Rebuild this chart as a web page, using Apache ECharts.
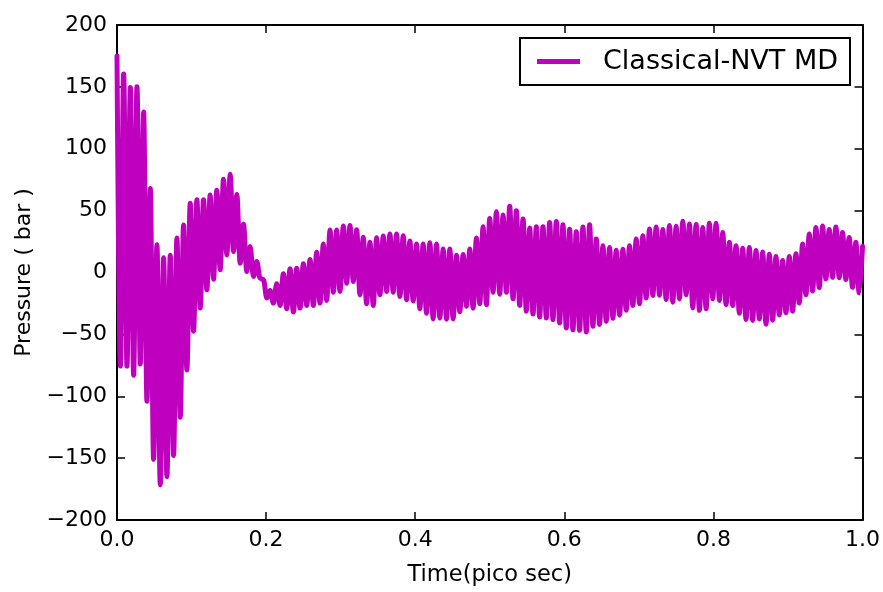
<!DOCTYPE html>
<html>
<head>
<meta charset="utf-8">
<script src="https://cdn.jsdelivr.net/npm/echarts@6/dist/echarts.min.js"></script>
<style>
  html, body { margin: 0; padding: 0; background: #ffffff; }
  #chart { width: 883px; height: 592px; }
</style>
</head>
<body>
<div id="chart"></div>
<script>
// Pressure trace of a classical NVT MD run: successive maxima and minima (bar)
const peaks = [
  175, 160.5, 149.5, 150, 129.7, 67.8, 22.5, 12, 14, 27.9,
  38.3, 56, 58.7, 58.7, 62.7, 66.5, 75.3, 79.3, 63, 39,
  21, 8.8, -5.9, -14.5, -9, -1, 3, 3.5, 7, 10.5,
  16.3, 23, 34.3, 34.3, 37.5, 38, 34.5, 28.4, 24.4, 28,
  29.5, 31.1, 31.1, 29.7, 25.5, 23, 23, 24, 23, 19,
  19, 14, 14.5, 19, 27.9, 37, 43.6, 49, 46.5, 53.5,
  50, 43.2, 36, 37, 37, 40.4, 41.2, 38.6, 35, 33,
  36.7, 38.5, 27, 21.7, 20.3, 18, 18.8, 21.7, 27.1, 29.7,
  35.1, 36.7, 34.7, 38, 37.4, 41.5, 39.1, 38.7, 36.4, 39.8,
  39.8, 32.4, 24.4, 21.7, 19.6, 20.3, 17.7, 16.6, 14.7, 13,
  9.6, 13, 15.2, 23, 31.1, 36.4, 37.5, 34.7, 36.7, 32.4,
  28.2, 24.4, 21
];
const troughs = [
  -75.6, -75.6, -83, -74, -104, -151, -171.5, -165, -148, -117,
  -78.8, -47.4, -28.7, -13.9, -5.4, 2.2, 14.2, 16.9, 7.5, 0.8,
  -3.2, -4.6, -20.6, -24.7, -26.6, -29.3, -32, -28.7, -26.7, -26.7,
  -24.7, -22.6, -16, -15.3, -8.6, -7.2, -18, -25.3, -26.6, -18,
  -15.3, -16, -19.3, -22, -23, -29.3, -33, -37.5, -36.7, -37.7,
  -37.5, -31.7, -27.3, -28.8, -25.3, -26, -16, -17.5, -16, -21.3,
  -26.6, -31.3, -33.5, -36, -36.7, -38, -40.7, -44.8, -46.3, -46.7,
  -48, -43.4, -42, -39.4, -37, -34.5, -30.5, -26.7, -25.3, -20.6,
  -18.6, -18.3, -21.9, -24, -21.4, -18, -28.7, -30.6, -29.3, -21.3,
  -22.6, -26, -26.7, -33, -38, -38.7, -37.5, -41.8, -38.5, -34.3,
  -32.5, -31.3, -24.7, -18, -15, -12.2, -5.2, -3.9, -4.2, -5.6,
  -12, -16.6
];
const timeStart = 0.0;   // ps
const timeEnd = 1.0;     // ps
const xTicks = [0.0, 0.2, 0.4, 0.6, 0.8, 1.0];
const yTicks = [-200, -150, -100, -50, 0, 50, 100, 150, 200];
const seriesName = 'Classical-NVT MD';

// interleave maxima and minima on an even time grid
const nExt = peaks.length + troughs.length;
const step = (timeEnd - timeStart) / (nExt - 1);
const points = [];
for (let i = 0; i < nExt; i++) {
  const v = (i % 2 === 0) ? peaks[i / 2] : troughs[(i - 1) / 2];
  points.push([timeStart + i * step, v]);
}

const FONT = 'DejaVu Sans';
const minus = s => String(s).replace('-', '\u2212');

const chart = echarts.init(document.getElementById('chart'), null, { renderer: 'canvas' });
const axisLineStyle = { color: '#000', width: 2 };
const tickStyle = { show: true, inside: true, length: 8, lineStyle: { color: '#000', width: 1.5 } };

function frameX(position, extra) {
  return Object.assign({
    type: 'value',
    position: position,
    min: xTicks[0],
    max: xTicks[xTicks.length - 1],
    interval: 0.2,
    axisLine: { show: true, onZero: false, lineStyle: axisLineStyle },
    axisTick: tickStyle,
    splitLine: { show: false },
    axisLabel: { show: false }
  }, extra || {});
}
function frameY(position, extra) {
  return Object.assign({
    type: 'value',
    position: position,
    min: yTicks[0],
    max: yTicks[yTicks.length - 1],
    interval: 50,
    axisLine: { show: true, onZero: false, lineStyle: axisLineStyle },
    axisTick: tickStyle,
    splitLine: { show: false },
    axisLabel: { show: false }
  }, extra || {});
}

chart.setOption({
  animation: false,
  backgroundColor: '#ffffff',
  grid: { left: 117, right: 20, top: 25, bottom: 70, containLabel: false },
  legend: {
    show: true,
    right: 33,
    top: 38,
    icon: 'rect',
    itemWidth: 43,
    itemHeight: 5,
    borderColor: '#000',
    borderWidth: 2,
    borderRadius: 0,
    padding: [10, 12, 10, 17],
    textStyle: { fontFamily: FONT, fontSize: 27, color: '#000', padding: [0, 0, 0, 18] },
    data: [seriesName]
  },
  xAxis: [
    frameX('bottom', {
      name: 'Time(pico sec)',
      nameLocation: 'middle',
      nameGap: 44,
      nameTextStyle: { fontFamily: FONT, fontSize: 22.5, color: '#000' },
      axisLabel: {
        show: true, fontFamily: FONT, fontSize: 22, color: '#000', margin: 9,
        formatter: v => v.toFixed(1)
      }
    }),
    frameX('top')
  ],
  yAxis: [
    frameY('left', {
      name: 'Pressure ( bar )',
      nameLocation: 'middle',
      nameGap: 82,
      nameRotate: 90,
      nameTextStyle: { fontFamily: FONT, fontSize: 22, color: '#000' },
      axisLabel: {
        show: true, fontFamily: FONT, fontSize: 22, color: '#000', margin: 10,
        formatter: v => minus(v)
      }
    }),
    frameY('right')
  ],
  series: [{
    name: seriesName,
    type: 'line',
    xAxisIndex: 0,
    yAxisIndex: 0,
    data: points,
    showSymbol: false,
    symbol: 'none',
    smooth: 0.35,
    smoothMonotone: 'x',
    color: '#bf00bf',
    lineStyle: { color: '#bf00bf', width: 5, cap: 'round', join: 'round' },
    z: 1
  }]
});
</script>
</body>
</html>
